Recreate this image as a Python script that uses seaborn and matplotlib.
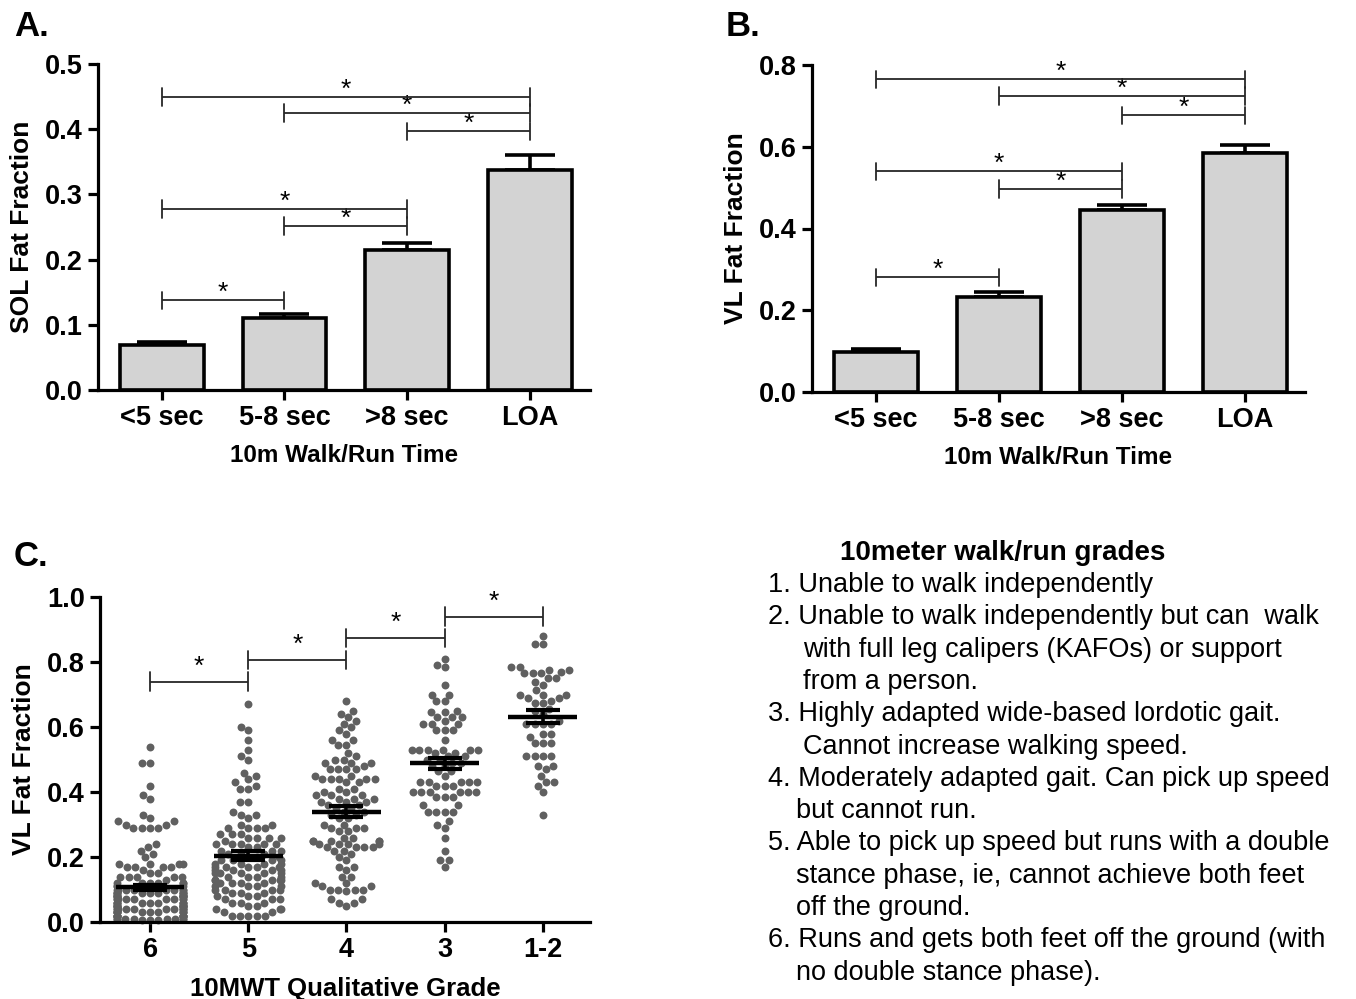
import warnings
warnings.filterwarnings("ignore")
import numpy as np
import pandas as pd
import matplotlib
matplotlib.use("Agg")
import matplotlib.pyplot as plt
import seaborn as sns
from seaborn import categorical as _sc

# ---------------- data ----------------
time_cats = ["<5 sec", "5-8 sec", ">8 sec", "LOA"]
sol_means = [0.069, 0.111, 0.214, 0.338]
sol_sem = [0.004, 0.006, 0.012, 0.023]
vl_means = [0.099, 0.232, 0.445, 0.584]
vl_sem = [0.005, 0.013, 0.013, 0.021]

# brackets: (i, j, y)
sol_brackets = [(0, 3, 0.450), (1, 3, 0.425), (2, 3, 0.397),
                (0, 2, 0.278), (1, 2, 0.252), (0, 1, 0.138)]
vl_brackets = [(0, 3, 0.765), (1, 3, 0.725), (2, 3, 0.677),
               (0, 2, 0.540), (1, 2, 0.497), (0, 1, 0.281)]

grade_cats = ["6", "5", "4", "3", "1-2"]
grade6 = [0.54, 0.49, 0.49, 0.42, 0.39, 0.38, 0.33, 0.32, 0.31, 0.31, 0.30, 0.30,
          0.29, 0.29, 0.29, 0.29, 0.24, 0.23, 0.22, 0.21, 0.20, 0.18, 0.18, 0.18,
          0.18, 0.17, 0.17, 0.17, 0.17, 0.16, 0.15, 0.15, 0.14, 0.14, 0.14, 0.14,
          0.14, 0.13, 0.12, 0.12, 0.12, 0.12, 0.12, 0.12,
          0.11, 0.11, 0.11, 0.10, 0.10, 0.10, 0.10, 0.10, 0.10, 0.10, 0.10,
          0.09, 0.09, 0.09, 0.09, 0.09, 0.09, 0.09, 0.09, 0.09,
          0.08, 0.08, 0.08, 0.08, 0.08, 0.08, 0.08, 0.08, 0.08,
          0.07, 0.07, 0.07, 0.07, 0.07, 0.07, 0.07, 0.07, 0.07,
          0.06, 0.06, 0.06, 0.06, 0.06, 0.06, 0.06, 0.06, 0.06,
          0.05, 0.05, 0.05, 0.05, 0.05, 0.05, 0.05, 0.05, 0.05,
          0.04, 0.04, 0.04, 0.04, 0.04, 0.04, 0.04, 0.04, 0.04, 0.04,
          0.03, 0.03, 0.03, 0.03, 0.03, 0.03, 0.03, 0.03, 0.03, 0.03,
          0.02, 0.02, 0.02, 0.02, 0.02, 0.02, 0.02, 0.02, 0.02, 0.02,
          0.01, 0.01, 0.01, 0.01, 0.01, 0.01, 0.01, 0.01,
          0.005, 0.005, 0.005]
grade5 = [0.67, 0.60, 0.59, 0.56, 0.53, 0.51, 0.50, 0.46, 0.45, 0.44, 0.43, 0.42,
          0.41, 0.41, 0.37, 0.37, 0.34, 0.33, 0.33, 0.32, 0.30, 0.30, 0.29, 0.29,
          0.29, 0.29, 0.27, 0.27, 0.27, 0.26, 0.26, 0.26, 0.26, 0.25, 0.24, 0.24,
          0.24, 0.24, 0.24, 0.23, 0.23, 0.22, 0.22, 0.22, 0.21, 0.21, 0.21, 0.20,
          0.20, 0.20,
          0.19, 0.19, 0.19, 0.19, 0.18, 0.18, 0.18, 0.18, 0.17, 0.17, 0.17, 0.17,
          0.17, 0.16, 0.16, 0.16, 0.16, 0.15, 0.15, 0.15, 0.15, 0.15, 0.14, 0.14,
          0.14, 0.14, 0.13, 0.13, 0.13, 0.13, 0.13, 0.12, 0.12, 0.12, 0.12, 0.11,
          0.11, 0.11, 0.11, 0.10, 0.10, 0.10, 0.10, 0.09, 0.09, 0.09, 0.08, 0.08,
          0.08, 0.07, 0.07, 0.07, 0.06, 0.06, 0.06, 0.05, 0.05, 0.04, 0.04, 0.04,
          0.03, 0.03, 0.02, 0.02, 0.02, 0.02, 0.02]
grade4 = [0.68, 0.65, 0.64, 0.63, 0.62, 0.61, 0.60, 0.59, 0.58, 0.56, 0.56, 0.545,
          0.545, 0.52, 0.51, 0.50, 0.50, 0.49, 0.49, 0.49, 0.48, 0.47, 0.47, 0.47,
          0.47, 0.45, 0.45, 0.44, 0.44, 0.44, 0.44, 0.44, 0.43, 0.43, 0.41, 0.41,
          0.40, 0.40, 0.39, 0.39, 0.39, 0.38, 0.38, 0.38, 0.37, 0.37, 0.37, 0.36,
          0.36, 0.35, 0.35, 0.34, 0.34, 0.33, 0.33, 0.32, 0.32, 0.30, 0.30, 0.29,
          0.29, 0.29, 0.28, 0.28, 0.26, 0.26, 0.25, 0.25, 0.25, 0.25, 0.25, 0.24,
          0.24, 0.24, 0.24, 0.23, 0.23, 0.23, 0.23, 0.22, 0.22, 0.21, 0.20, 0.19,
          0.17, 0.17, 0.16, 0.14, 0.14, 0.12, 0.12, 0.11, 0.11, 0.10, 0.10, 0.10,
          0.10, 0.095, 0.07, 0.07, 0.06, 0.06, 0.05]
grade3 = [0.81, 0.79, 0.785, 0.73, 0.70, 0.70, 0.68, 0.68, 0.65, 0.645, 0.645, 0.63,
          0.63, 0.63, 0.62, 0.61, 0.61, 0.61, 0.59, 0.59, 0.59, 0.56, 0.53, 0.53,
          0.53, 0.53, 0.53, 0.53, 0.52, 0.52, 0.51, 0.51, 0.50, 0.50, 0.49, 0.49,
          0.48, 0.48, 0.465, 0.465, 0.45, 0.43, 0.43, 0.43, 0.43, 0.43, 0.42, 0.42,
          0.42, 0.40, 0.40, 0.40, 0.40, 0.40, 0.40, 0.385, 0.385, 0.385, 0.36, 0.36,
          0.34, 0.34, 0.34, 0.34, 0.31, 0.30, 0.29, 0.26, 0.22, 0.19, 0.19, 0.17]
grade12 = [0.88, 0.855, 0.855, 0.785, 0.785, 0.775, 0.775, 0.77, 0.765, 0.765, 0.765,
           0.75, 0.75, 0.74, 0.73, 0.715, 0.70, 0.70, 0.70, 0.69, 0.69, 0.68, 0.675,
           0.675, 0.655, 0.65, 0.64, 0.62, 0.61, 0.61, 0.61, 0.61, 0.58, 0.58, 0.57,
           0.55, 0.55, 0.55, 0.51, 0.51, 0.51, 0.51, 0.48, 0.48, 0.47, 0.45, 0.43,
           0.43, 0.42, 0.40, 0.33]
grade_means = [0.107, 0.204, 0.339, 0.488, 0.631]
grade_sem = [0.008, 0.014, 0.017, 0.017, 0.020]
grade_brackets = [(0, 1, 0.740), (1, 2, 0.807), (2, 3, 0.875), (3, 4, 0.940)]

legend_title = "10meter walk/run grades"
legend_lines = [
    ("1. Unable to walk independently", 0),
    ("2. Unable to walk independently but can  walk", 0),
    ("with full leg calipers (KAFOs) or support", 1),
    ("from a person.", 1),
    ("3. Highly adapted wide-based lordotic gait.", 0),
    ("Cannot increase walking speed.", 1),
    ("4. Moderately adapted gait. Can pick up speed", 0),
    ("but cannot run.", 2),
    ("5. Able to pick up speed but runs with a double", 0),
    ("stance phase, ie, cannot achieve both feet", 2),
    ("off the ground.", 2),
    ("6. Runs and gets both feet off the ground (with", 0),
    ("no double stance phase).", 2),
]

# narrower swarm columns (GraphPad-like)
_orig_bee_init = _sc.Beeswarm.__init__
def _bee_init(self, *args, **kw):
    if "width" in kw:
        kw["width"] = kw["width"] * 0.84
    _orig_bee_init(self, *args, **kw)
_sc.Beeswarm.__init__ = _bee_init

# ---------------- style ----------------
sns.set_theme(style="ticks")
plt.rcParams["font.family"] = ["Liberation Sans", "DejaVu Sans"]
plt.rcParams["font.weight"] = "bold"
plt.rcParams["text.color"] = "black"
plt.rcParams["axes.labelcolor"] = "black"
plt.rcParams["xtick.color"] = "black"
plt.rcParams["ytick.color"] = "black"

W, H = 1356, 999
fig = plt.figure(figsize=(W / 100, H / 100), dpi=100)

def px_axes(l, r, b, t):
    return fig.add_axes([l / W, 1 - b / H, (r - l) / W, (b - t) / H])

SPINE_LW = 2.3
TICK_FS = 19.5
GRAY = "#262626"

def style_axes(ax, ylim, yticks, xlim):
    ax.set_ylim(*ylim)
    ax.set_xlim(*xlim)
    ax.set_yticks(yticks)
    ax.set_yticklabels([f"{t:.1f}" for t in yticks], fontsize=TICK_FS, fontweight="bold")
    for s in ["top", "right"]:
        ax.spines[s].set_visible(False)
    for s in ["left", "bottom"]:
        ax.spines[s].set_linewidth(SPINE_LW)
        ax.spines[s].set_color("black")
    ax.tick_params(axis="both", direction="out", length=7, width=SPINE_LW,
                   color="black", labelcolor="black", pad=4)
    for lab in ax.get_xticklabels():
        lab.set_fontsize(TICK_FS)
        lab.set_fontweight("bold")

def brackets(ax, items, hang_up, hang_dn, star_off):
    for i, j, y in items:
        ax.plot([i, j], [y, y], color=GRAY, lw=1.3, zorder=4, solid_capstyle="butt")
        for xx in (i, j):
            ax.plot([xx, xx], [y + hang_up, y - hang_dn], color=GRAY, lw=1.3, zorder=4)
        ax.text((i + j) / 2, y + star_off, "*", ha="center", va="center",
                fontsize=19, fontweight="normal", color="black")

def bar_panel(ax, means, sems, br, ylim, yticks, ylabel, span):
    df = pd.DataFrame({"cat": time_cats, "val": means})
    sns.barplot(data=df, x="cat", y="val", order=time_cats, color="#d3d3d3",
                saturation=1, edgecolor="black", linewidth=2.6, width=0.68,
                errorbar=None, ax=ax, zorder=2)
    ax.errorbar(np.arange(len(means)), means, yerr=[np.zeros(len(means)), sems],
                fmt="none", ecolor="black", elinewidth=2.6, capsize=18, capthick=2.6,
                zorder=1)
    style_axes(ax, ylim, yticks, (-0.52, 3.49))
    ax.set_xlabel("10m Walk/Run Time", fontsize=17.5, fontweight="bold", labelpad=9)
    ax.set_ylabel(ylabel, fontsize=19, fontweight="bold", labelpad=8)
    brackets(ax, br, 0.026 * span, 0.028 * span, 0.022 * span)

# Panel A
axA = px_axes(98, 590, 390, 64)
bar_panel(axA, sol_means, sol_sem, sol_brackets, (0, 0.5),
          [0.0, 0.1, 0.2, 0.3, 0.4, 0.5], "SOL Fat Fraction", 0.5)

# Panel B
axB = px_axes(812, 1305, 392, 65)
bar_panel(axB, vl_means, vl_sem, vl_brackets, (0, 0.8),
          [0.0, 0.2, 0.4, 0.6, 0.8], "VL Fat Fraction", 0.8)

# Panel C
axC = px_axes(100, 590, 922, 597)
groups = [grade6, grade5, grade4, grade3, grade12]
dfc = pd.DataFrame({
    "grade": sum([[g] * len(v) for g, v in zip(grade_cats, groups)], []),
    "val": sum(groups, []),
})
sns.swarmplot(data=dfc, x="grade", y="val", order=grade_cats, color="#606060",
              size=5.7, linewidth=0, ax=axC, zorder=2, clip_on=False)
xs = np.arange(len(grade_cats))
axC.hlines(grade_means, xs - 0.35, xs + 0.35, color="black", lw=3.2, zorder=5)
axC.errorbar(xs, grade_means, yerr=grade_sem, fmt="none", ecolor="black",
             elinewidth=2.6, capsize=12, capthick=3, zorder=5)
style_axes(axC, (0, 1.0), [0.0, 0.2, 0.4, 0.6, 0.8, 1.0], (-0.51, 4.48))
axC.set_xlabel("10MWT Qualitative Grade", fontsize=18.5, fontweight="bold", labelpad=10)
axC.set_ylabel("VL Fat Fraction", fontsize=19, fontweight="bold", labelpad=8)
brackets(axC, grade_brackets, 0.028, 0.03, 0.045)

# Panel letters
for lbl, x, y in [("A.", 14, 27), ("B.", 726, 27), ("C.", 14, 556)]:
    fig.text(x / W, 1 - y / H, lbl, fontsize=25, fontweight="bold",
             ha="left", va="center")

# Text block
fig.text(840 / W, 1 - 553 / H, legend_title, fontsize=20, fontweight="bold",
         ha="left", va="center")
indent_px = {0: 768, 1: 803, 2: 796}
y0, dy = 585, 32.3
for k, (line, ind) in enumerate(legend_lines):
    fig.text(indent_px[ind] / W, 1 - (y0 + k * dy) / H, line, fontsize=19.5,
             fontweight="normal", ha="left", va="center", color="black")

fig.savefig("out.png", dpi=100)
